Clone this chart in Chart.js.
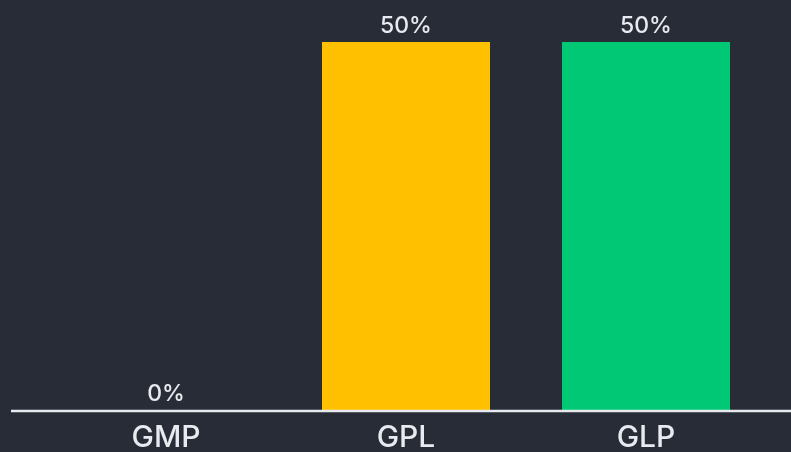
<!DOCTYPE html>
<html><head><meta charset="utf-8">
<script src="https://cdn.jsdelivr.net/npm/chart.js@4"></script>
<style>html,body{margin:0;padding:0;background:#272c37;}#w{width:791px;height:452px;}</style>
</head><body><div id="w"><canvas id="c"></canvas></div>
<script>
const categories = ["GMP", "GPL", "GLP"];
const values = [0, 50, 50];
const barColors = ["#FFC000", "#FFC000", "#00C875"];
const valueLabels = ["0%", "50%", "50%"];

const textColor = "#e8eaef";
const fontFamily = "Inter, 'Open Sans', sans-serif";

const labelPlugin = {
  id: "valLabels",
  afterDatasetsDraw(chart) {
    const ctx = chart.ctx;
    const meta = chart.getDatasetMeta(0);
    ctx.save();
    ctx.fillStyle = textColor;
    ctx.font = "500 23px " + fontFamily;
    ctx.textAlign = "center";
    ctx.textBaseline = "alphabetic";
    meta.data.forEach((bar, i) => {
      ctx.fillText(valueLabels[i], bar.x, bar.y - 9);
    });
    const y0 = chart.scales.y.getPixelForValue(0);
    ctx.strokeStyle = "#e8eaef";
    ctx.lineWidth = 2.5;
    ctx.beginPath();
    ctx.moveTo(11, y0 + 1);
    ctx.lineTo(chart.width, y0 + 1);
    ctx.stroke();
    ctx.restore();
  }
};

new Chart(document.getElementById("c"), {
  type: "bar",
  data: {
    labels: categories,
    datasets: [{
      data: values,
      backgroundColor: barColors,
      borderWidth: 0,
      barPercentage: 0.7,
      categoryPercentage: 1.0
    }]
  },
  options: {
    responsive: true,
    maintainAspectRatio: false,
    animation: false,
    layout: { padding: { left: 46, right: 25, top: 42, bottom: -14 } },
    plugins: { legend: { display: false }, tooltip: { enabled: false } },
    scales: {
      x: {
        grid: { display: false, drawTicks: false },
        border: { display: false },
        ticks: { color: textColor, font: { size: 30, family: fontFamily, weight: 500 }, padding: 10 }
      },
      y: {
        display: false,
        min: 0,
        max: 50
      }
    }
  },
  plugins: [labelPlugin]
});
</script>
</body></html>
